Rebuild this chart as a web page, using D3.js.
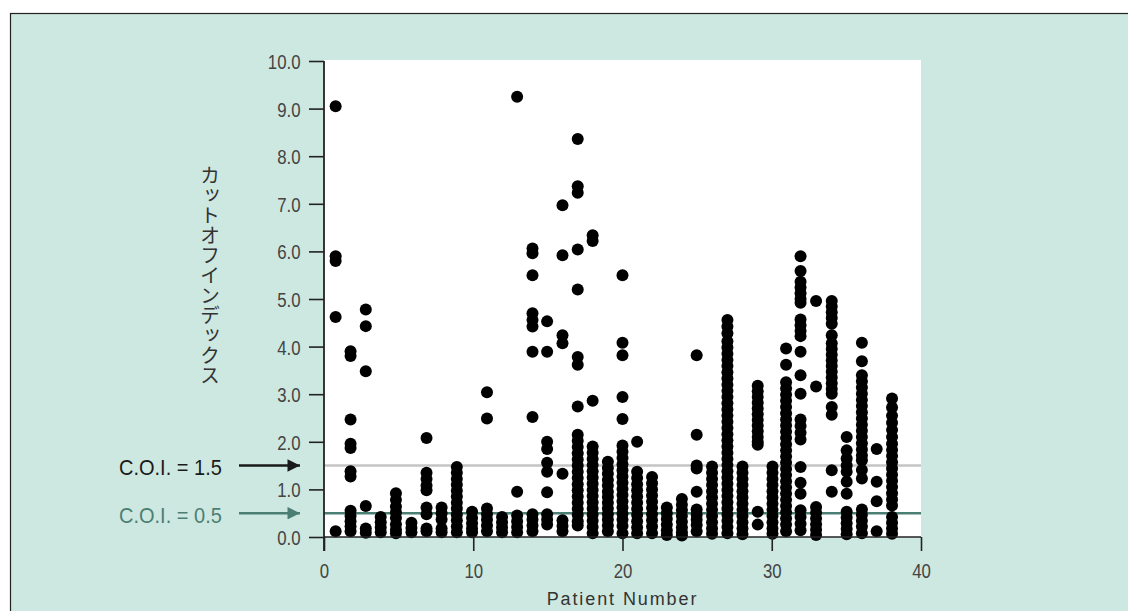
<!DOCTYPE html>
<html>
<head>
<meta charset="utf-8">
<script src="https://cdn.jsdelivr.net/npm/d3@7"></script>
<style>
  html, body { margin: 0; padding: 0; background: #ffffff; }
  svg { display: block; }
</style>
</head>
<body>
<svg id="chart" width="1128" height="611"></svg>
<script>
// ---- Data ----
const yTicks = [0, 1, 2, 3, 4, 5, 6, 7, 8, 9, 10];
const xTicks = [0, 10, 20, 30, 40];
const xTitle = "Patient Number";
const yTitle = "カットオフインデックス";
const cutoffs = [1.5, 0.5];
const cutoffLabels = ["C.O.I. = 1.5", "C.O.I. = 0.5"];

// horizontal position of each patient's column, as drawn
const patientX = [0.78, 1.78, 2.80, 3.80, 4.82, 5.86, 6.87, 7.88, 8.90, 9.92,
                  10.92, 11.93, 12.94, 13.97, 14.95, 15.98, 17.00, 18.00, 19.02, 20.00,
                  20.98, 21.98, 22.97, 23.98, 24.97, 26.00, 27.03, 28.04, 29.06, 30.05,
                  30.96, 31.93, 32.97, 34.02, 35.02, 36.04, 37.03, 38.06];

// cut-off index values, one array per patient
const pt1  = [9.05, 5.90, 5.80, 4.62, 0.12];
const pt2  = [3.90, 3.80, 2.47, 1.96, 1.87, 1.38, 1.27, 0.55, 0.44, 0.33, 0.22, 0.12];
const pt3  = [4.78, 4.43, 3.48, 0.65, 0.18, 0.09];
const pt4  = [0.42, 0.31, 0.20, 0.10];
const pt5  = [0.92, 0.78, 0.64, 0.52, 0.40, 0.27, 0.15, 0.08];
const pt6  = [0.30, 0.19, 0.10];
const pt7  = [2.08, 1.35, 1.22, 1.08, 0.98, 0.62, 0.48, 0.18, 0.12];
const pt8  = [0.62, 0.50, 0.37, 0.18, 0.10];
const pt9  = [1.47, 1.35, 1.22, 1.10, 0.97, 0.85, 0.72, 0.60, 0.47, 0.35, 0.22, 0.10];
const pt10 = [0.53, 0.40, 0.29, 0.18, 0.10];
const pt11 = [3.04, 2.49, 0.60, 0.48, 0.36, 0.24, 0.12];
const pt12 = [0.42, 0.31, 0.20, 0.10];
const pt13 = [9.25, 0.95, 0.45, 0.33, 0.21, 0.10];
const pt14 = [6.06, 5.96, 5.50, 4.70, 4.56, 4.42, 3.89, 2.52, 0.48, 0.36, 0.24, 0.12];
const pt15 = [4.53, 3.89, 2.00, 1.85, 1.56, 1.37, 0.94, 0.48, 0.36, 0.26];
const pt16 = [6.97, 5.92, 4.24, 4.07, 1.33, 0.35, 0.23, 0.12];
const pt17 = [8.36, 7.37, 7.23, 6.04, 5.20, 3.78, 3.62, 2.74, 2.15, 2.02, 1.89, 1.76, 1.63, 1.50,
              1.37, 1.24, 1.11, 0.98, 0.85, 0.72, 0.59, 0.46, 0.33, 0.24];
const pt18 = [6.34, 6.22, 2.86, 1.90, 1.77, 1.64, 1.51, 1.38, 1.25, 1.12, 0.99, 0.86, 0.73, 0.60,
              0.47, 0.34, 0.21, 0.08];
const pt19 = [1.58, 1.45, 1.33, 1.20, 1.08, 0.95, 0.84, 0.72, 0.60, 0.48, 0.36, 0.24, 0.12];
const pt20 = [5.50, 4.08, 3.82, 2.94, 2.48, 1.92, 1.79, 1.66, 1.53, 1.40, 1.27, 1.14, 1.01, 0.88,
              0.75, 0.62, 0.49, 0.36, 0.23, 0.08];
const pt21 = [2.00, 1.37, 1.24, 1.11, 0.98, 0.85, 0.72, 0.59, 0.46, 0.33, 0.20, 0.08];
const pt22 = [1.26, 1.13, 1.00, 0.87, 0.74, 0.61, 0.48, 0.35, 0.22, 0.08];
const pt23 = [0.62, 0.50, 0.38, 0.26, 0.14, 0.04];
const pt24 = [0.80, 0.68, 0.56, 0.44, 0.32, 0.20, 0.10, 0.03];
const pt25 = [3.82, 2.15, 1.50, 1.44, 0.95, 0.58, 0.47, 0.36, 0.25, 0.12];
const pt26 = [1.48, 1.35, 1.22, 1.09, 0.96, 0.83, 0.70, 0.57, 0.44, 0.31, 0.18, 0.07];
const pt27 = [4.56, 4.42, 4.28, 4.11, 3.98, 3.85, 3.72, 3.59, 3.46, 3.33, 3.20, 3.07, 2.94, 2.81,
              2.68, 2.55, 2.42, 2.29, 2.16, 2.03, 1.90, 1.77, 1.64, 1.51, 1.38, 1.25, 1.12, 0.99,
              0.86, 0.73, 0.60, 0.47, 0.34, 0.21, 0.08];
const pt28 = [1.48, 1.35, 1.22, 1.09, 0.96, 0.83, 0.70, 0.57, 0.44, 0.31, 0.18, 0.06];
const pt29 = [3.18, 3.06, 2.94, 2.82, 2.70, 2.58, 2.46, 2.34, 2.22, 2.10, 2.00, 1.94, 0.53, 0.26];
const pt30 = [1.48, 1.35, 1.22, 1.09, 0.96, 0.83, 0.70, 0.57, 0.44, 0.31, 0.18, 0.07];
const pt31 = [3.96, 3.62, 3.25, 3.12, 2.99, 2.86, 2.73, 2.60, 2.47, 2.34, 2.21, 2.08, 1.95, 1.82,
              1.69, 1.56, 1.43, 1.30, 1.17, 1.04, 0.91, 0.78, 0.65, 0.52, 0.39, 0.26, 0.12];
const pt32 = [5.90, 5.59, 5.36, 5.24, 5.12, 5.00, 4.92, 4.57, 4.45, 4.33, 4.22, 3.89, 3.40, 3.01,
              2.47, 2.33, 2.19, 2.05, 1.47, 1.14, 0.91, 0.56, 0.42, 0.28, 0.14];
const pt33 = [4.96, 3.16, 0.63, 0.51, 0.39, 0.27, 0.15, 0.04];
const pt34 = [4.96, 4.84, 4.72, 4.60, 4.48, 4.24, 4.07, 3.95, 3.83, 3.71, 3.59, 3.47, 3.35, 3.23,
              3.11, 3.01, 2.73, 2.57, 1.40, 0.95];
const pt35 = [2.10, 1.82, 1.65, 1.50, 1.37, 1.16, 0.91, 0.53, 0.41, 0.29, 0.17, 0.06];
const pt36 = [4.08, 3.69, 3.40, 3.27, 3.14, 3.01, 2.88, 2.75, 2.62, 2.49, 2.36, 2.23, 2.10, 1.97,
              1.84, 1.71, 1.61, 1.41, 1.23, 0.58, 0.46, 0.34, 0.22, 0.08];
const pt37 = [1.85, 1.16, 0.75, 0.12];
const pt38 = [2.91, 2.72, 2.55, 2.40, 2.25, 2.10, 1.96, 1.83, 1.70, 1.57, 1.44, 1.31, 1.18, 1.05,
              0.92, 0.79, 0.66, 0.42, 0.30, 0.18, 0.07];

const patientValues = [pt1, pt2, pt3, pt4, pt5, pt6, pt7, pt8, pt9, pt10,
  pt11, pt12, pt13, pt14, pt15, pt16, pt17, pt18, pt19, pt20,
  pt21, pt22, pt23, pt24, pt25, pt26, pt27, pt28, pt29, pt30,
  pt31, pt32, pt33, pt34, pt35, pt36, pt37, pt38];

// ---- Drawing ----
const svg = d3.select("#chart");
const W = 1128, H = 611;
const plot = { left: 324, right: 921, top: 61, bottom: 537 };

const x = d3.scaleLinear().domain([0, 40]).range([plot.left, plot.right]);
const y = d3.scaleLinear().domain([0, 10]).range([plot.bottom, plot.top]);

const GREEN = "#cde8e0";
const TEAL = "#4c7f74";
const GREYLINE = "#c4c4c4";
const AXIS = "#222";
const LABEL = "#444";
const SANS = "'Liberation Sans', Arial, Helvetica, sans-serif";
const SX = 0.8;    // horizontal squeeze to mimic the condensed tick font
const SXA = 0.91;  // squeeze for the cut-off annotations

// panel background with border
svg.append("rect").attr("x", 10.5).attr("y", 13.5).attr("width", W).attr("height", H)
  .attr("fill", GREEN).attr("stroke", "#222").attr("stroke-width", 1.2);

// white plot area
svg.append("rect").attr("x", plot.left).attr("y", 60)
  .attr("width", plot.right - plot.left).attr("height", plot.bottom - 60)
  .attr("fill", "#fff");

// cut-off lines
svg.append("line").attr("x1", plot.left).attr("x2", plot.right)
  .attr("y1", y(cutoffs[0])).attr("y2", y(cutoffs[0]))
  .attr("stroke", GREYLINE).attr("stroke-width", 2.5);
svg.append("line").attr("x1", plot.left).attr("x2", plot.right)
  .attr("y1", y(cutoffs[1])).attr("y2", y(cutoffs[1]))
  .attr("stroke", TEAL).attr("stroke-width", 2.5);

// points
const points = [];
patientValues.forEach((vals, i) => vals.forEach(v => points.push({ px: patientX[i], v })));
svg.append("g").selectAll("circle").data(points).join("circle")
  .attr("cx", d => x(d.px)).attr("cy", d => y(d.v)).attr("r", 6)
  .attr("fill", "#000");

// y axis
const yAxis = d3.axisLeft(y).tickValues(yTicks).tickFormat(d3.format(".1f"))
  .tickSize(15).tickPadding(9);
const gy = svg.append("g").attr("transform", `translate(${plot.left},0)`).call(yAxis);
gy.select(".domain").remove();
gy.selectAll(".tick line").attr("stroke", AXIS).attr("stroke-width", 1.6);
gy.selectAll(".tick text").attr("font-family", SANS).attr("fill", LABEL)
  .attr("font-size", 21).attr("dy", "0.36em")
  .attr("x", -23.5 / SX).attr("transform", `scale(${SX},1)`);
svg.append("line").attr("x1", plot.left).attr("x2", plot.left)
  .attr("y1", plot.top).attr("y2", 551).attr("stroke", AXIS).attr("stroke-width", 1.8);

// x axis
const xAxis = d3.axisBottom(x).tickValues(xTicks).tickSize(14).tickPadding(12);
const gx = svg.append("g").attr("transform", `translate(0,${plot.bottom})`).call(xAxis);
gx.select(".domain").remove();
gx.selectAll(".tick line").attr("stroke", AXIS).attr("stroke-width", 1.6);
gx.selectAll(".tick text").attr("font-family", SANS).attr("fill", LABEL)
  .attr("font-size", 21).attr("transform", `scale(${SX},1)`);
svg.append("line").attr("x1", plot.left).attr("x2", plot.right)
  .attr("y1", plot.bottom).attr("y2", plot.bottom).attr("stroke", AXIS).attr("stroke-width", 1.6);

// axis titles
svg.append("text").attr("x", (plot.left + plot.right) / 2).attr("y", 605)
  .attr("text-anchor", "middle").attr("font-family", SANS)
  .attr("font-size", 18).attr("letter-spacing", "1.9px").attr("fill", "#333")
  .text(xTitle);

svg.append("text").attr("x", 210).attr("y", 165)
  .attr("font-family", "'Noto Sans CJK JP', sans-serif").attr("font-size", 20)
  .attr("fill", "#333")
  .style("writing-mode", "vertical-rl")
  .text(yTitle);

// cut-off annotations with arrows
const defs = svg.append("defs");
[["arrowBlack", "#1a1a1a"], ["arrowTeal", TEAL]].forEach(([id, c]) => {
  defs.append("marker").attr("id", id).attr("viewBox", "0 0 10 10")
    .attr("refX", 10).attr("refY", 5).attr("markerWidth", 8).attr("markerHeight", 5)
    .attr("markerUnits", "strokeWidth").attr("orient", "auto")
    .append("path").attr("d", "M0,0 L10,5 L0,10 Z").attr("fill", c);
});
const annColors = ["#1a1a1a", TEAL];
const annMarkers = ["arrowBlack", "arrowTeal"];
cutoffs.forEach((c, i) => {
  const yy = y(c);
  svg.append("text").attr("x", 119 / SXA).attr("y", yy + 1.5)
    .attr("transform", `scale(${SXA},1)`)
    .attr("dy", "0.36em").attr("font-family", SANS).attr("font-size", 22)
    .attr("fill", annColors[i])
    .text(cutoffLabels[i]);
  svg.append("line").attr("x1", 239).attr("x2", 300).attr("y1", yy).attr("y2", yy)
    .attr("stroke", annColors[i]).attr("stroke-width", 2.5)
    .attr("marker-end", `url(#${annMarkers[i]})`);
});
</script>
</body>
</html>
